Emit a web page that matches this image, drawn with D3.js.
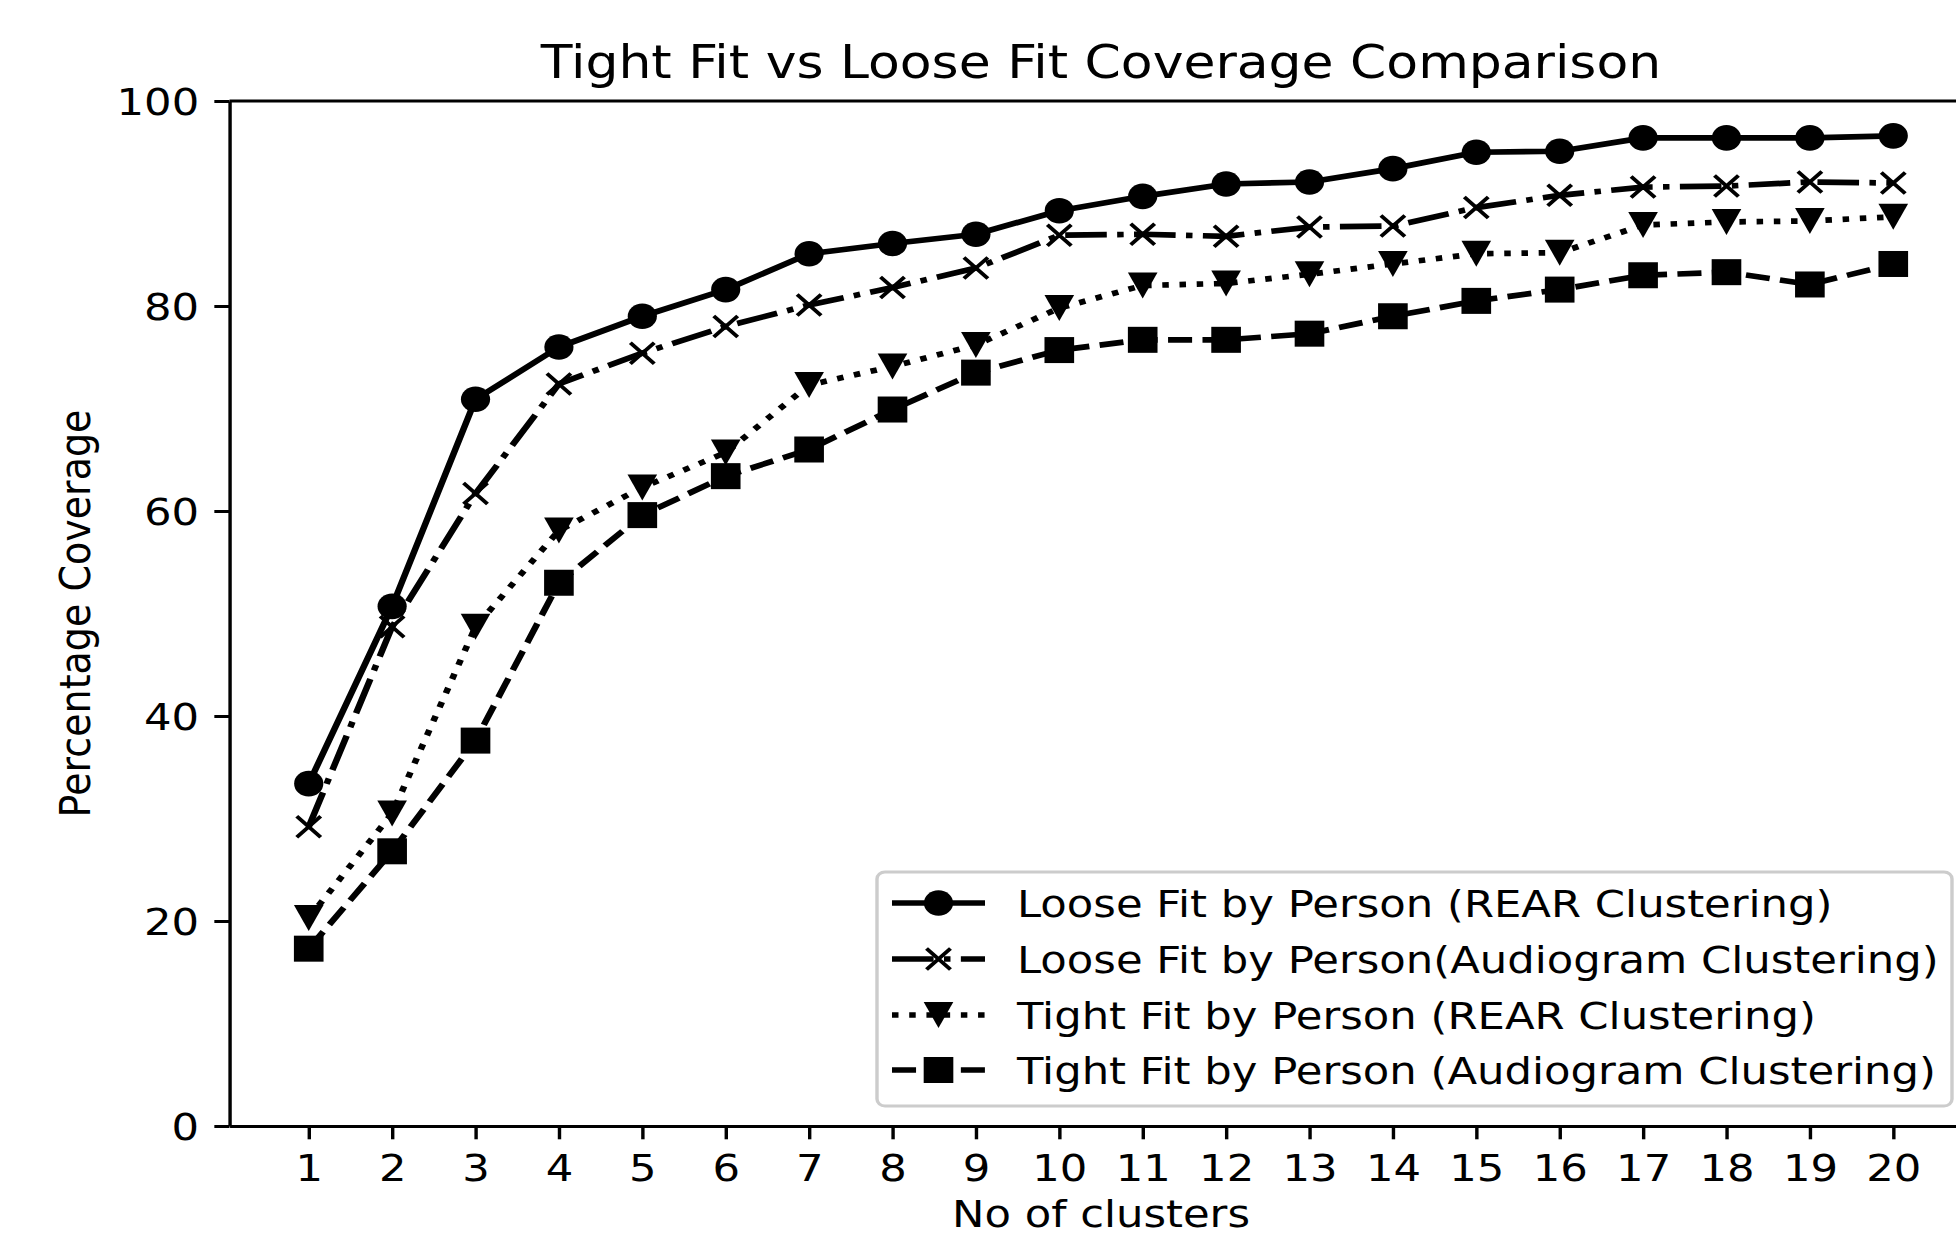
<!DOCTYPE html>
<html>
<head>
<meta charset="utf-8">
<script src="https://cdn.jsdelivr.net/npm/d3@7"></script>
<style>
  body { margin: 0; background: #fff; overflow: hidden; }
  svg { display: block; }
  text { font-family: "DejaVu Sans", sans-serif; fill: #000; }
</style>
</head>
<body>
<div id="chart"></div>
<script>
// data
const clusters = [1, 2, 3, 4, 5, 6, 7, 8, 9, 10, 11, 12, 13, 14, 15, 16, 17, 18, 19, 20];
const looseRear = [33.4, 50.7, 70.9, 76.0, 79.0, 81.6, 85.1, 86.1, 87.0, 89.3, 90.7, 91.9, 92.1, 93.4, 95.0, 95.1, 96.4, 96.4, 96.4, 96.6];
const looseAudio = [29.2, 48.7, 61.7, 72.4, 75.4, 78.0, 80.1, 81.8, 83.7, 86.9, 87.0, 86.8, 87.7, 87.8, 89.6, 90.8, 91.6, 91.7, 92.1, 92.0];
const tightRear = [20.3, 30.5, 48.7, 58.1, 62.3, 65.7, 72.3, 74.1, 76.2, 79.8, 82.0, 82.2, 83.1, 84.1, 85.1, 85.2, 87.9, 88.2, 88.3, 88.7];
const tightAudio = [17.3, 26.8, 37.6, 53.0, 59.6, 63.4, 66.0, 69.9, 73.5, 75.7, 76.7, 76.7, 77.3, 79.0, 80.5, 81.6, 83.0, 83.3, 82.1, 84.1];
const seriesNames = [
  'Loose Fit by Person (REAR Clustering)',
  'Loose Fit by Person(Audiogram Clustering)',
  'Tight Fit by Person (REAR Clustering)',
  'Tight Fit by Person (Audiogram Clustering)'
];
const yTicks = [0, 20, 40, 60, 80, 100];

const W = 1956, H = 1237;
const stretch = 1.14;   // source image is stretched sideways
const fs = 38;
const lw = 5.7;

const series = [
  { name: seriesNames[0], values: looseRear, dash: null, marker: 'circle' },
  { name: seriesNames[1], values: looseAudio, dash: [36.5, 9.1, 5.7, 9.1], marker: 'x' },
  { name: seriesNames[2], values: tightRear, dash: [5.7, 9.4], marker: 'tri' },
  { name: seriesNames[3], values: tightAudio, dash: [21.1, 9.1], marker: 'square' }
];

const svg = d3.select('#chart').append('svg')
  .attr('width', W)
  .attr('height', H);

const root = svg.append('g').attr('transform', `scale(${stretch},1)`);

const x = d3.scaleLinear().domain([0.05, 20.95]).range([229.5 / stretch, 1972.5 / stretch]);
const y = d3.scaleLinear().domain([0, 100]).range([1126, 101]);

// axes
const xAxis = root.append('g')
  .attr('transform', `translate(0,${y(0)})`)
  .call(d3.axisBottom(x).tickValues(clusters).tickSize(13.3).tickSizeOuter(0).tickPadding(15));
const yAxis = root.append('g')
  .attr('transform', `translate(${x(0.05)},0)`)
  .call(d3.axisLeft(y).tickValues(yTicks).tickSize(13.3).tickSizeOuter(0).tickPadding(13.3));

[xAxis, yAxis].forEach(a => {
  a.selectAll('path.domain').attr('stroke', '#000').attr('stroke-width', 3);
  a.selectAll('.tick line').attr('stroke', '#000').attr('stroke-width', 3);
  a.selectAll('.tick text').attr('font-size', fs).attr('font-family', '"DejaVu Sans", sans-serif').attr('fill', '#000');
});
yAxis.selectAll('.tick text').attr('dy', '0.36em');

// top and right spines
root.append('line')
  .attr('x1', x(0.05)).attr('x2', x(20.95))
  .attr('y1', y(100)).attr('y2', y(100))
  .attr('stroke', '#000').attr('stroke-width', 3);
root.append('line')
  .attr('x1', x(20.95)).attr('x2', x(20.95))
  .attr('y1', y(0)).attr('y2', y(100))
  .attr('stroke', '#000').attr('stroke-width', 3);

// markers
function drawMarker(g, type) {
  if (type === 'circle') {
    g.append('circle').attr('r', 12.8).attr('fill', '#000');
  } else if (type === 'square') {
    g.append('rect').attr('x', -13).attr('y', -13).attr('width', 26).attr('height', 26).attr('fill', '#000');
  } else if (type === 'tri') {
    g.append('path').attr('d', 'M-13,-13L13,-13L0,13Z').attr('fill', '#000');
  } else {
    g.append('path').attr('d', 'M-10.5,-10.5L10.5,10.5M-10.5,10.5L10.5,-10.5')
      .attr('stroke', '#000').attr('stroke-width', 3.6).attr('fill', 'none');
  }
}

const line = d3.line()
  .x((d, i) => x(clusters[i]))
  .y(d => y(d));

series.forEach(s => {
  const g = root.append('g');
  g.append('path')
    .datum(s.values)
    .attr('d', line)
    .attr('fill', 'none')
    .attr('stroke', '#000')
    .attr('stroke-width', lw)
    .attr('stroke-linejoin', 'round')
    .attr('stroke-dasharray', s.dash ? s.dash.join(',') : null);
  g.selectAll('g.pt')
    .data(s.values)
    .enter().append('g')
    .attr('class', 'pt')
    .attr('transform', (d, i) => `translate(${x(clusters[i])},${y(d)})`)
    .each(function () { drawMarker(d3.select(this), s.marker); });
});

// title and axis labels
root.append('text')
  .attr('x', (x(0.05) + x(20.95)) / 2)
  .attr('y', 78)
  .attr('text-anchor', 'middle')
  .attr('font-size', fs * 1.2)
  .text('Tight Fit vs Loose Fit Coverage Comparison');

root.append('text')
  .attr('x', (x(0.05) + x(20.95)) / 2)
  .attr('y', 1227)
  .attr('text-anchor', 'middle')
  .attr('font-size', fs)
  .text('No of clusters');

root.append('text')
  .attr('transform', `translate(${89.6 / stretch},${(y(0) + y(100)) / 2}) rotate(-90)`)
  .attr('text-anchor', 'middle')
  .attr('font-size', fs)
  .text('Percentage Coverage');

// legend
const legend = root.append('g');
legend.append('rect')
  .attr('x', 877 / stretch).attr('y', 872)
  .attr('width', (1952 - 877) / stretch).attr('height', 234)
  .attr('rx', 7)
  .attr('fill', '#fff').attr('fill-opacity', 0.8)
  .attr('stroke', '#cccccc').attr('stroke-width', 3);

const rowY = [903, 959, 1015, 1070];
series.forEach((s, i) => {
  const r = legend.append('g').attr('transform', `translate(0,${rowY[i]})`);
  r.append('line')
    .attr('x1', 892 / stretch).attr('x2', 985 / stretch)
    .attr('y1', 0).attr('y2', 0)
    .attr('stroke', '#000').attr('stroke-width', lw)
    .attr('stroke-dasharray', s.dash ? s.dash.join(',') : null);
  const m = r.append('g').attr('transform', `translate(${938.5 / stretch},0)`);
  drawMarker(m, s.marker);
  r.append('text')
    .attr('x', 1017 / stretch).attr('y', 0)
    .attr('dy', '0.36em')
    .attr('font-size', fs)
    .text(s.name);
});
</script>
</body>
</html>
